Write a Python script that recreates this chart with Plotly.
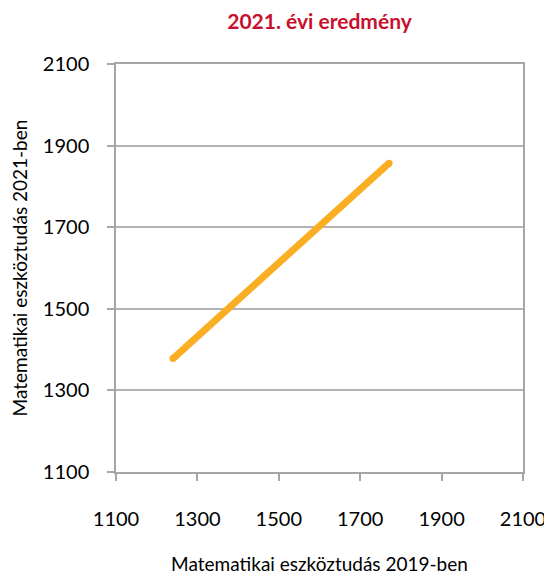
import plotly.graph_objects as go

x_2019 = [1240, 1771]
y_2021 = [1378, 1857]
tick_vals = [1100, 1300, 1500, 1700, 1900, 2100]
tick_text = ["1100", "1300", "1500", "1700", "1900", "2100"]

W, H = 544, 569  # page body has an 8px margin in the 552x577 window

fig = go.Figure()
fig.add_trace(go.Scatter(
    x=x_2019, y=y_2021, mode="lines+markers",
    line=dict(color="#F9AE23", width=7),
    marker=dict(color="#F9AE23", size=7),
    showlegend=False, hoverinfo="skip",
))

font_family = "Lato, 'DejaVu Sans', sans-serif"
fig.update_layout(
    width=W, height=H,
    margin=dict(l=108, r=29, t=56, b=105, autoexpand=False),
    paper_bgcolor="white", plot_bgcolor="white",
    font=dict(family=font_family, color="black"),
    title=dict(text="<b>2021. évi eredmény</b>", x=(108 + 515) / 2 / W, xanchor="center",
               y=1 - 14 / H, yanchor="middle",
               font=dict(size=21, color="#C8102E", family=font_family)),
)
fig.update_xaxes(
    range=[1100, 2100], tickvals=tick_vals, ticktext=tick_text,
    showgrid=False, zeroline=False, automargin=False,
    showline=True, linecolor="#a6a6a6", linewidth=1.5, mirror=True,
    ticks="outside", ticklen=7, tickcolor="#a6a6a6", tickwidth=1.5,
    ticklabelstandoff=21,
    tickfont=dict(size=20, color="black"),
    title=dict(text="Matematikai eszköztudás 2019-ben", font=dict(size=19, color="black"), standoff=29),
)
fig.update_yaxes(
    range=[1100, 2100], tickvals=tick_vals, ticktext=tick_text,
    showgrid=True, gridcolor="#b3b3b3", gridwidth=1.5, zeroline=False, automargin=False,
    showline=True, linecolor="#a6a6a6", linewidth=1.5, mirror=True,
    ticks="outside", ticklen=7, tickcolor="#a6a6a6", tickwidth=1.5,
    ticklabelstandoff=14,
    tickfont=dict(size=20, color="black"),
    title=dict(text="Matematikai eszköztudás 2021-ben", font=dict(size=19, color="black"), standoff=12),
)

fig.write_html("out.html")
